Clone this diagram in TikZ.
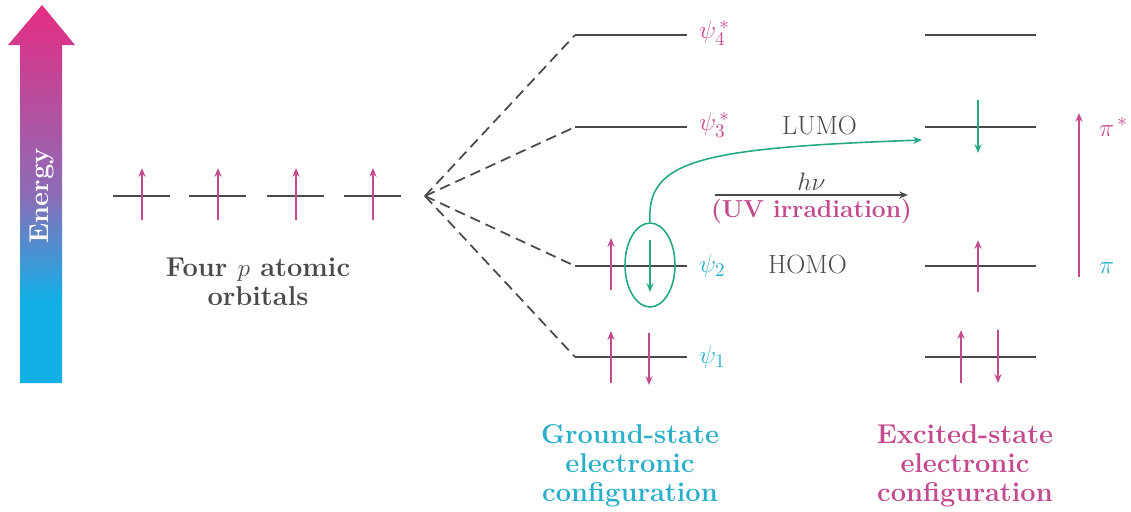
\documentclass[tikz,border=0pt]{standalone}
\usepackage{tikz}
\usetikzlibrary{positioning,arrows.meta,calc,shapes.geometric}
\definecolor{cPink} {HTML}{C4498E}
\definecolor{cCyan} {HTML}{2AAFCB}
\definecolor{cGreen}{HTML}{24A886}
\definecolor{cGray} {HTML}{4A4A4A}
\definecolor{cTop}  {HTML}{E52D83}
\definecolor{cMid}  {HTML}{8C6CB6}
\definecolor{cBot}  {HTML}{13B0E8}
\pgfdeclareverticalshading{energy}{100bp}{color(0bp)=(cBot); color(36bp)=(cBot);
  color(50bp)=(cMid); color(75bp)=(cTop); color(100bp)=(cTop)}
\tikzset{
  >={Stealth[length=5pt,width=4pt]},
  lvl/.style ={cGray,line width=1.1pt},
  corr/.style={cGray,line width=1pt,dash pattern=on 6pt off 3.5pt},
  eup/.style ={->,cPink,line width=0.85pt},
  edn/.style ={->,cGreen,line width=0.85pt},
  txt/.style ={font=\fontsize{15.5}{16.5}\selectfont\bfseries,align=center,inner sep=1pt},
  lab/.style ={font=\fontsize{15}{16}\selectfont,anchor=west,inner sep=1pt},
}

\begin{document}
\begin{tikzpicture}[x=0.02cm,y=-0.02cm]
  \useasboundingbox (0,0) rectangle (1131,511);
  % energy scale
  \shade[shading=energy] (20,383) -- (20,45) -- (8,45) -- (42,5) -- (75,45)
    -- (62,45) -- (62,383) -- cycle;
  \node[txt,white,rotate=90] (en) at (42,196) {Energy};
  % four p atomic orbitals
  \foreach \i/\x in {1/142,2/218,3/296,4/373} {
    \coordinate (p\i) at (\x,196);
    \draw[lvl] ($(p\i)+(-29,0)$) -- ($(p\i)+(28,0)$);
    \draw[eup] ($(p\i)+(0,24)$) -- ++(0,-52);
  }
  \node[txt,cGray] (ao) at (258,282) {Four $p$ atomic\\orbitals};
  % molecular orbitals, ground and excited
  \coordinate (split) at (425,196);
  \foreach \n/\y in {4/35,3/127,2/266,1/357} {
    \coordinate (g\n) at (631,\y);
    \coordinate (x\n) at (980,\y);
    \draw[lvl] ($(g\n)+(-56,0)$) coordinate (gl\n) -- ($(g\n)+(56,0)$);
    \draw[lvl] ($(x\n)+(-55,0)$) -- ($(x\n)+(56,0)$);
    \draw[corr] (split) -- (gl\n);
  }
  \node[lab,cPink] (psi4) at (697,33) {$\psi_4^{\,*}$};
  \node[lab,cPink] (psi3) at (697,125) {$\psi_3^{\,*}$};
  \node[lab,cCyan] (psi2) at (697,266) {$\psi_2$};
  \node[lab,cCyan] (psi1) at (697,357) {$\psi_1$};
  \node[lab,cGray] (lumo) at (780,125) {LUMO};
  \node[lab,cGray] (homo) at (766,264) {HOMO};
  % ground-state electrons
  \draw[eup] ($(g2)+(-20,24)$) -- ++(0,-52);
  \draw[edn] ($(g2)+(19,-26)$) -- ++(0,52);
  \draw[eup] ($(g1)+(-20,26)$) -- ++(0,-52);
  \draw[eup] ($(g1)+(18,-24)$) -- ++(0,52);
  \node[ellipse,draw=cGreen,line width=0.9pt,minimum width=1cm,minimum height=1.68cm,
        inner sep=0pt] (hole) at (650,265) {};
  % excited-state electrons
  \draw[edn] ($(x3)+(-2,-27)$) coordinate (lu) -- ++(0,53);
  \draw[eup] ($(x2)+(-2,26)$) -- ++(0,-52);
  \draw[eup] ($(x1)+(-19,26)$) -- ++(0,-53);
  \draw[eup] ($(x1)+(18,-27)$) -- ++(0,53);
  \coordinate (land) at (922,140);
  \draw[->,cGreen,line width=0.9pt] (hole.north) .. controls (646,160) and (700,148) .. (land);
  % excitation
  \coordinate (hvl) at (715,195);
  \coordinate (hvr) at (908,195);
  \draw[->,cGray,line width=0.8pt] (hvl) -- (hvr)
    node[midway,above=1pt,txt,cGray] (hv) {$h\nu$}
    node[midway,below=1pt,txt,font=\fontsize{14}{16}\selectfont\bfseries,cPink] (uv) {(UV irradiation)};
  \coordinate (pib) at (1079,277);
  \coordinate (pit) at (1079,113);
  \draw[->,cPink,line width=1pt] (pib) -- (pit);
  \node[lab,cPink] (pistar) at (1097,127) {$\pi^{\,*}$};
  \node[lab,cCyan] (pi) at (1097,268) {$\pi$};
  % captions
  \node[txt,cCyan] (gs) at (630,466) {Ground-state\\electronic\\configuration};
  \node[txt,cPink] (es) at (965,466) {Excited-state\\electronic\\configuration};
\end{tikzpicture}
\end{document}
